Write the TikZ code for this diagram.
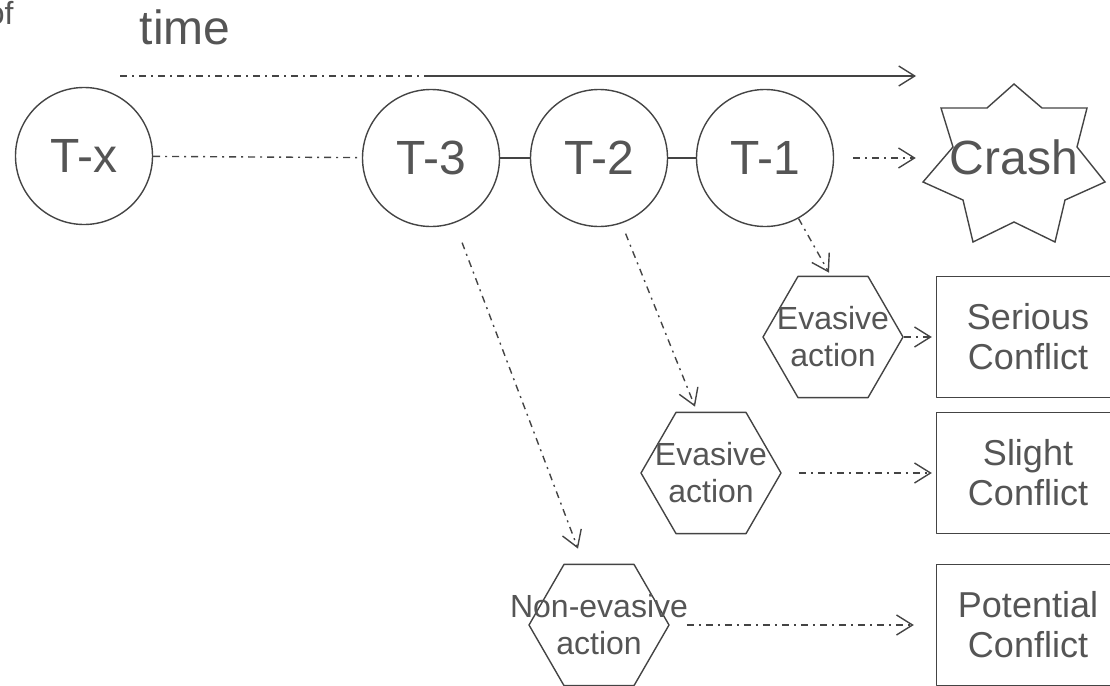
\documentclass[tikz,border=0pt]{standalone}
\usepackage{fontspec}
\setmainfont{Liberation Sans}
\usetikzlibrary{arrows.meta, shapes.geometric}
\definecolor{lineGray}{RGB}{68,68,68}
\definecolor{textGray}{RGB}{85,85,85}
\tikzset{every path/.style={line cap=round, line join=round}, >={Straight Barb[length=16pt, width=20pt]}}
\tikzset{
    bigtext/.style={font=\fontsize{48}{56}\selectfont, text=textGray},
    smalltext/.style={font=\fontsize{32}{37}\selectfont, text=textGray, align=center},
    tnode/.style={circle, draw=lineGray, line width=1.4pt, minimum size=137pt, inner sep=0pt, bigtext},
    actionhex/.style={regular polygon, regular polygon sides=6, draw=lineGray, line width=1.4pt, minimum size=140pt, inner sep=0pt},
    conflictbox/.style={draw=lineGray, line width=1.4pt, minimum width=183pt, minimum height=121pt, inner sep=0pt,
        font=\fontsize{36}{40}\selectfont, text=textGray, align=center},
    link/.style={draw=lineGray, line width=1.4pt},
    dashdot/.style={link, line cap=butt, dash pattern=on 7pt off 5pt on 2pt off 5pt},
    flow/.style={dashdot, ->}
}

\begin{document}
\begin{tikzpicture}[x=1pt, y=-1pt]
    \useasboundingbox (0,0) rectangle (1110,685);
    % headings
    \node [smalltext, anchor=base east] (ofword) at (17,25) {of};
    \node [bigtext, anchor=base] (timeword) at (185,45) {time};
    \coordinate (tstart) at (120,76);
    \coordinate (tend) at (916,76);
    % moments before the crash
    \node [tnode] (Tx) at (84,156) {T-x};
    \node [tnode] (T3) at (431,158) {T-3};
    \node [tnode] (T2) at (599,158) {T-2};
    \node [tnode] (T1) at (765,158) {T-1};
    % crash star, seven points
    \draw [link, line join=miter] (1014,84) -- (1042,108) -- (1087,108) -- (1077,147) -- (1105,182)
        -- (1065,200) -- (1055,242) -- (1014,222) -- (973,242) -- (963,200) -- (923,182)
        -- (953,147) -- (941,108) -- (987,108) -- cycle;
    \node [bigtext, inner sep=0pt] (crash) at (1014,157) {Crash};
    % actions
    \node [actionhex, label={[smalltext]center:Evasive\\action}] (evasiveA) at (833,337) {};
    \node [actionhex, label={[smalltext]center:Evasive\\action}] (evasiveB) at (711,473) {};
    \node [actionhex, label={[smalltext]center:Non-evasive\\action}] (nonevasive) at (599,625) {};
    % outcomes
    \node [conflictbox] (serious) at (1028,337) {Serious\\Conflict};
    \node [conflictbox] (slight) at (1028,473) {Slight\\Conflict};
    \node [conflictbox] (potential) at (1028,625) {Potential\\Conflict};
    % time line
    \draw [dashdot] (tstart) -- (tstart -| T3);
    \draw [link, ->] (tstart -| T3) -- (tend);
    % chain
    \draw [dashdot] (Tx) -- (T3);
    \draw [link] (T3) -- (T2) (T2) -- (T1);
    \draw [flow, shorten <=19pt, shorten >=34pt] (T1.east) -- (T1.east -| crash.west);
    % branches
    \draw [flow] (T1.-61) -- ([xshift=-4pt, yshift=3pt]evasiveA.north);
    \draw [flow, shorten <=11pt] (T2.-71) -- ([xshift=-16pt, yshift=5pt]evasiveB.north);
    \draw [flow, shorten <=21pt] (T3.-70) -- ([xshift=-21pt, yshift=15pt]nonevasive.north);
    \draw [flow, shorten >=4pt] (evasiveA) -- (serious);
    \draw [flow, shorten <=17pt, shorten >=4pt] (evasiveB) -- (slight);
    \draw [flow, shorten <=17pt, shorten >=22pt] (nonevasive) -- (potential);
\end{tikzpicture}
\end{document}
